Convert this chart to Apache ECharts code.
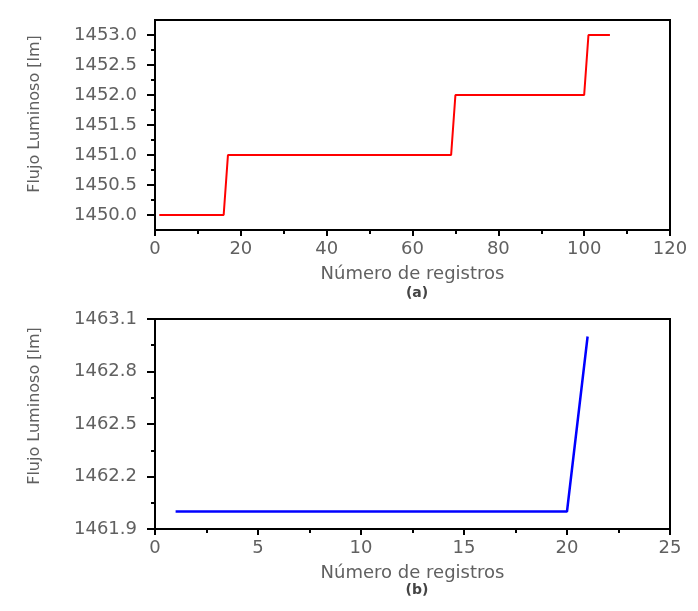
<!DOCTYPE html>
<html><head><meta charset="utf-8">
<script src="https://cdn.jsdelivr.net/npm/echarts@6/dist/echarts.min.js"></script>
<style>html,body{margin:0;padding:0;background:#fff}#c{width:698px;height:611px}</style>
</head><body><div id="c"></div>
<script>
// Panel (a): corner points of the step curve
const xA = [1, 16, 17, 69, 70, 100, 101, 106];
const yA = [1450, 1450, 1451, 1451, 1452, 1452, 1453, 1453];
// Panel (b)
const xB = [1, 20, 21];
const yB = [1462.0, 1462.0, 1463.0];
const yTicksA = [1450.0, 1450.5, 1451.0, 1451.5, 1452.0, 1452.5, 1453.0];
const yMinorA = [1450.25, 1450.75, 1451.25, 1451.75, 1452.25, 1452.75];
const yTicksB = [1461.9, 1462.2, 1462.5, 1462.8, 1463.1];
const yMinorB = [1462.05, 1462.35, 1462.65, 1462.95];
const xTicksA = [0, 20, 40, 60, 80, 100, 120];
const xTicksB = [0, 5, 10, 15, 20, 25];
const xTitle = 'Número de registros';
const yTitle = 'Flujo Luminoso [lm]';

const FONT = 'DejaVu Sans';
const LBL = '#606060';
const chart = echarts.init(document.getElementById('c'), null, {renderer: 'canvas'});

function xAxisDef(gi, min, max, interval) {
  return {
    type: 'value', gridIndex: gi, min: min, max: max, interval: interval,
    name: xTitle, nameLocation: 'middle', nameGap: 35,
    nameTextStyle: {color: LBL, fontFamily: FONT, fontSize: 18},
    axisLine: {show: true, lineStyle: {color: '#000', width: 2}},
    axisTick: {show: true, length: 6, lineStyle: {color: '#000', width: 2}},
    minorTick: {show: true, splitNumber: 2, length: 4, lineStyle: {color: '#000', width: 2}},
    axisLabel: {color: LBL, fontFamily: FONT, fontSize: 18, margin: 10},
    splitLine: {show: false}, minorSplitLine: {show: false}
  };
}
function yAxisDef(gi, min, max, ticks) {
  return {
    type: 'value', gridIndex: gi, min: min, max: max, position: 'left',
    axisLine: {show: true, lineStyle: {color: '#000', width: 2}},
    axisTick: {show: true, length: 8, customValues: ticks, lineStyle: {color: '#000', width: 2}},
    axisLabel: {color: LBL, fontFamily: FONT, fontSize: 18, margin: 18,
      customValues: ticks, formatter: v => Number(v).toFixed(1)},
    splitLine: {show: false}
  };
}
function yMinorDef(gi, min, max, ticks) {
  return {
    type: 'value', gridIndex: gi, min: min, max: max, position: 'left',
    axisLine: {show: false},
    axisTick: {show: true, length: 4, customValues: ticks, lineStyle: {color: '#000', width: 2}},
    axisLabel: {show: false, customValues: ticks},
    splitLine: {show: false}
  };
}
function yTitleText(cy) {
  return {type: 'text', x: 35, y: cy, rotation: Math.PI / 2,
    style: {text: yTitle, fill: LBL, font: '16px "' + FONT + '"', align: 'center', verticalAlign: 'middle'}};
}

chart.setOption({
  animation: false,
  backgroundColor: '#fff',
  grid: [
    {left: 155, top: 20, width: 515, height: 210, show: true, borderColor: '#000', borderWidth: 2},
    {left: 155, top: 319, width: 515, height: 210, show: true, borderColor: '#000', borderWidth: 2}
  ],
  title: [
    {text: '(a)', left: 412, top: 281, textAlign: 'center',
     textStyle: {color: '#444', fontFamily: FONT, fontSize: 14, fontWeight: 'bold'}},
    {text: '(b)', left: 412, top: 578, textAlign: 'center',
     textStyle: {color: '#444', fontFamily: FONT, fontSize: 14, fontWeight: 'bold'}}
  ],
  graphic: [yTitleText(114), yTitleText(406)],
  xAxis: [
    xAxisDef(0, xTicksA[0], xTicksA[xTicksA.length - 1], xTicksA[1] - xTicksA[0]),
    xAxisDef(1, xTicksB[0], xTicksB[xTicksB.length - 1], xTicksB[1] - xTicksB[0])
  ],
  yAxis: [
    yAxisDef(0, 1449.75, 1453.25, yTicksA),
    yAxisDef(1, yTicksB[0], yTicksB[yTicksB.length - 1], yTicksB),
    yMinorDef(0, 1449.75, 1453.25, yMinorA),
    yMinorDef(1, yTicksB[0], yTicksB[yTicksB.length - 1], yMinorB)
  ],
  series: [
    {type: 'line', xAxisIndex: 0, yAxisIndex: 0, showSymbol: false, symbol: 'none',
     lineStyle: {color: '#ff0000', width: 2}, data: xA.map((x, i) => [x, yA[i]])},
    {type: 'line', xAxisIndex: 1, yAxisIndex: 1, showSymbol: false, symbol: 'none',
     lineStyle: {color: '#0000ff', width: 2.5}, data: xB.map((x, i) => [x, yB[i]])}
  ]
});
</script></body></html>
